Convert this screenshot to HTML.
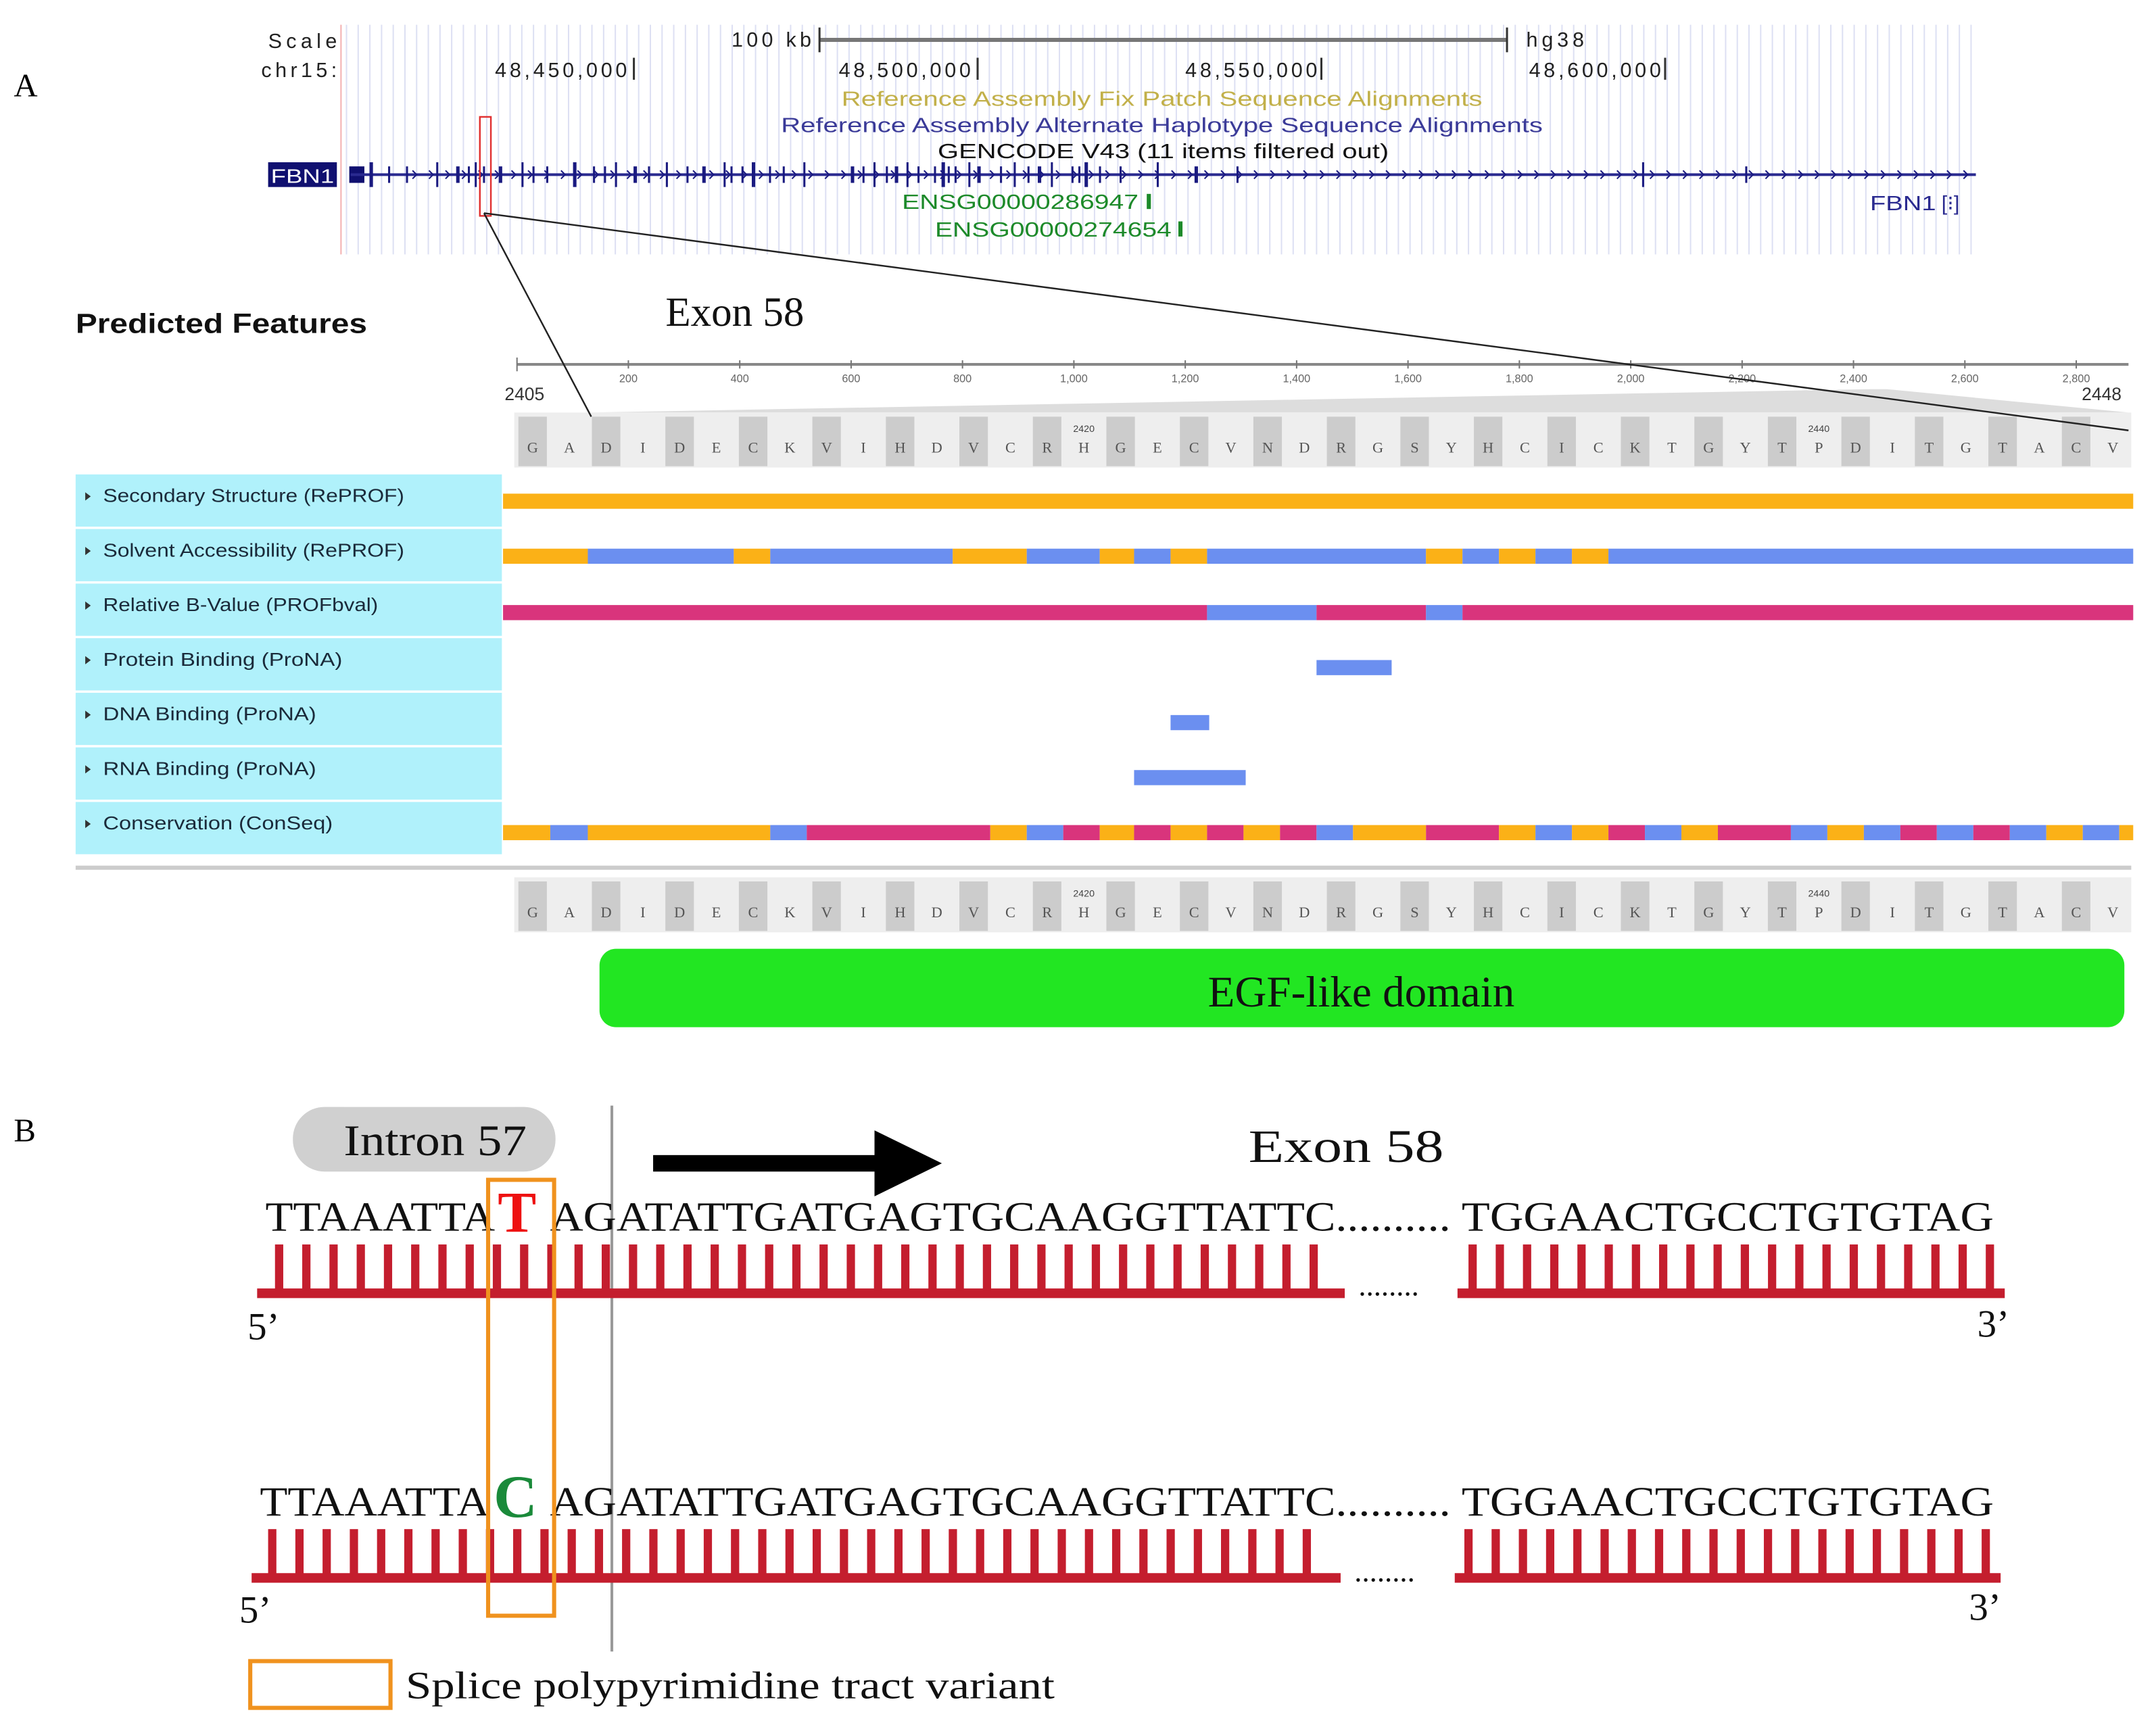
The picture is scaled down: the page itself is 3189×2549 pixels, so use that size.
<!DOCTYPE html>
<html><head><meta charset="utf-8"><style>
html,body{margin:0;padding:0;background:#fff}
svg{display:block}
</style></head><body>
<svg id="s" width="3189" height="2549" viewBox="0 0 1568 1253" preserveAspectRatio="none" xmlns="http://www.w3.org/2000/svg" font-family="Liberation Sans, sans-serif">
<rect width="1568" height="1253" fill="#fff"/>
<g id="vlines"></g>
<line x1="248" y1="18" x2="248" y2="185" stroke="#f3b0b0" stroke-width="1"/>
<text x="10" y="70" font-family="Liberation Serif, serif" font-size="24">A</text>
<text x="10" y="830" font-family="Liberation Serif, serif" font-size="24">B</text>
<g font-size="15" fill="#222" lengthAdjust="spacingAndGlyphs">
<text x="195" y="35" textLength="50">Scale</text>
<text x="190" y="56" textLength="55">chr15:</text>
<text x="532" y="34" textLength="58">100 kb</text>
<text x="1110" y="34" textLength="42">hg38</text>
<text x="360" y="56" textLength="96">48,450,000</text>
<text x="610" y="56" textLength="96">48,500,000</text>
<text x="862" y="56" textLength="96">48,550,000</text>
<text x="1112" y="56" textLength="96">48,600,000</text>
</g>
<g stroke="#333" stroke-width="1.5">
<line x1="596" y1="29" x2="1096" y2="29" stroke="#777" stroke-width="3"/>
<line x1="596" y1="20" x2="596" y2="38"/><line x1="1096" y1="20" x2="1096" y2="38"/>
<line x1="461" y1="42" x2="461" y2="58"/><line x1="711" y1="42" x2="711" y2="58"/>
<line x1="961" y1="42" x2="961" y2="58"/><line x1="1211" y1="42" x2="1211" y2="58"/>
</g>
<text x="612" y="77" font-size="15" fill="#c2b04a" textLength="466" lengthAdjust="spacingAndGlyphs">Reference Assembly Fix Patch Sequence Alignments</text>
<text x="568" y="96" font-size="15" fill="#3a3a98" textLength="554" lengthAdjust="spacingAndGlyphs">Reference Assembly Alternate Haplotype Sequence Alignments</text>
<text x="682" y="115" font-size="15" fill="#111" textLength="328" lengthAdjust="spacingAndGlyphs">GENCODE V43 (11 items filtered out)</text>
<rect x="195" y="118" width="50" height="18" fill="#101070"/>
<text x="197" y="133" font-size="14" fill="#fff" textLength="46" lengthAdjust="spacingAndGlyphs">FBN1</text>
<rect x="254" y="121" width="11" height="12" fill="#101070"/>
<line x1="255" y1="127" x2="1437" y2="127" stroke="#2a2a90" stroke-width="2"/>
<g id="exons" stroke="#1a1a80"></g>
<text x="656" y="152" font-size="15" fill="#1d8a2a" textLength="172" lengthAdjust="spacingAndGlyphs">ENSG00000286947</text>
<rect x="834" y="141" width="3" height="11" fill="#1d8a2a"/>
<text x="680" y="172" font-size="15" fill="#1d8a2a" textLength="172" lengthAdjust="spacingAndGlyphs">ENSG00000274654</text>
<rect x="857" y="161" width="3" height="11" fill="#1d8a2a"/>
<text x="1360" y="153" font-size="15" fill="#2a2a90" textLength="48" lengthAdjust="spacingAndGlyphs">FBN1</text>
<text x="1412" y="153" font-size="15" fill="#2a2a90">[⁝]</text>
<rect x="349" y="85" width="8" height="72" fill="none" stroke="#e03030" stroke-width="1.2"/>

<text x="55" y="242" font-size="20" font-weight="bold" fill="#111" textLength="212" lengthAdjust="spacingAndGlyphs">Predicted Features</text>
<text x="484" y="237" font-family="Liberation Serif, serif" font-size="30" fill="#111">Exon 58</text>
<line x1="376" y1="265" x2="1548" y2="265" stroke="#888" stroke-width="2"/>
<g id="ruler" font-size="8" fill="#666"></g>
<text x="367" y="291" font-size="13" fill="#333">2405</text>
<text x="1514" y="291" font-size="13" fill="#333">2448</text>
<polygon points="1360,283 1372,283 1548,300 430,300" fill="#ddd"/>
<g id="seq1"></g>
<g id="labels"></g>
<g id="tracks" transform="translate(344,0) scale(0.7805,1)"></g>
<line x1="55" y1="631" x2="1550" y2="631" stroke="#ccc" stroke-width="3"/>
<g id="seq2"></g>
<rect x="436" y="690" width="1109" height="57" rx="12" fill="#22e622"/>
<text x="990" y="732" text-anchor="middle" font-family="Liberation Serif, serif" font-size="32" fill="#111">EGF-like domain</text>

<line x1="352" y1="155" x2="430" y2="303" stroke="#222" stroke-width="1.2"/>
<line x1="352" y1="155" x2="1548" y2="313" stroke="#222" stroke-width="1.2"/>

<rect x="213" y="805" width="191" height="47" rx="23" fill="#d0d0d0"/>
<text x="250" y="840" font-family="Liberation Serif, serif" font-size="32" fill="#111" textLength="133" lengthAdjust="spacingAndGlyphs">Intron 57</text>
<line x1="445" y1="804" x2="445" y2="1201" stroke="#999" stroke-width="2"/>
<rect x="475" y="840" width="175" height="12" fill="#000"/>
<polygon points="636,822 685,846 636,870" fill="#000"/>
<text x="908" y="845" font-family="Liberation Serif, serif" font-size="34" fill="#111" textLength="142" lengthAdjust="spacingAndGlyphs">Exon 58</text>
<g id="combs" fill="#c41e2e"></g>
<g font-family="Liberation Serif, serif" fill="#111">
<text x="193" y="895" font-size="30" textLength="167" lengthAdjust="spacingAndGlyphs">TTAAATTA</text>
<text x="362" y="896" font-size="42" font-weight="bold" fill="#ee1111">T</text>
<text x="400" y="895" font-size="30" textLength="655" lengthAdjust="spacingAndGlyphs">AGATATTGATGAGTGCAAGGTTATTC..........</text>
<text x="1063" y="895" font-size="30" textLength="387" lengthAdjust="spacingAndGlyphs">TGGAACTGCCTGTGTAG</text>
<text x="180" y="974" font-size="28">5’</text>
<text x="1438" y="972" font-size="28">3’</text>
<text x="988" y="942" font-size="22">........</text>
<text x="189" y="1102" font-size="30" textLength="167" lengthAdjust="spacingAndGlyphs">TTAAATTA</text>
<text x="359" y="1103" font-size="44" font-weight="bold" fill="#1a8a3a">C</text>
<text x="400" y="1102" font-size="30" textLength="655" lengthAdjust="spacingAndGlyphs">AGATATTGATGAGTGCAAGGTTATTC..........</text>
<text x="1063" y="1102" font-size="30" textLength="387" lengthAdjust="spacingAndGlyphs">TGGAACTGCCTGTGTAG</text>
<text x="174" y="1180" font-size="28">5’</text>
<text x="1432" y="1178" font-size="28">3’</text>
<text x="985" y="1150" font-size="22">........</text>
<text x="295" y="1235" font-size="28" textLength="472" lengthAdjust="spacingAndGlyphs">Splice polypyrimidine tract variant</text>
</g>
<rect x="355" y="858" width="48" height="317" fill="none" stroke="#f0921e" stroke-width="3"/>
<rect x="182" y="1208" width="102" height="34" fill="none" stroke="#f0921e" stroke-width="3"/>
</svg>
<script>
var NS="http://www.w3.org/2000/svg";
function el(p,t,a,txt){var e=document.createElementNS(NS,t);for(var k in a)e.setAttribute(k,a[k]);if(txt!==undefined)e.textContent=txt;document.getElementById(p).appendChild(e);return e;}
for(var x=252;x<1440;x+=8.5)el("vlines","line",{x1:x,y1:18,x2:x,y2:185,stroke:"#dde0f3","stroke-width":1});
var ex=[270,283,296,318,333,341,346,352,364,380,388,398,418,432,440,448,462,472,485,500,512,527,532,540,548,560,570,585,620,628,636,645,652,660,668,680,686,690,695,705,712,728,738,748,756,765,780,785,790,800,815,842,870,900,1195,1270];
ex.forEach(function(x,i){var h=(i%3==0)?9:6;el("exons","line",{x1:x,y1:127-h,x2:x,y2:127+h,"stroke-width":(i%4==0)?2.5:1.5});});
for(var x=300;x<1437;x+=12)el("exons","path",{d:"M"+x+" 124 l3 3 l-3 3",fill:"none","stroke-width":1});
var rl=["200","400","600","800","1,000","1,200","1,400","1,600","1,800","2,000","2,200","2,400","2,600","2,800"];
rl.forEach(function(t,i){var x=457+81*i;el("ruler","line",{x1:x,y1:262,x2:x,y2:268,stroke:"#777"});el("ruler","text",{x:x,y:278,"text-anchor":"middle"},t);});
el("ruler","line",{x1:376,y1:260,x2:376,y2:270,stroke:"#777"});
var seq="GADIDECKVIHDVCRHGECVNDRGSYHCICKTGYTPDITGTACV";
function seqRow(id,y0){el(id,"rect",{x:374,y:y0,width:1176,height:40,fill:"#eeeeee"});var w=1176/44;
for(var i=0;i<44;i++){var x=374+i*w;if(i%2==0)el(id,"rect",{x:x+3,y:y0+3,width:w-6,height:36,fill:"#cccccc"});
el(id,"text",{x:x+w/2,y:y0+29,"text-anchor":"middle","font-size":11,"font-family":"Liberation Serif, serif",fill:"#555"},seq[i]);}
el(id,"text",{x:374+15.5*w,y:y0+14,"text-anchor":"middle","font-size":7,fill:"#444"},"2420");
el(id,"text",{x:374+35.5*w,y:y0+14,"text-anchor":"middle","font-size":7,fill:"#444"},"2440");}
seqRow("seq1",300);seqRow("seq2",638);
var labs=[["Secondary Structure (RePROF)",219],["Solvent Accessibility (RePROF)",219],["Relative B-Value (PROFbval)",200],["Protein Binding (ProNA)",174],["DNA Binding (ProNA)",155],["RNA Binding (ProNA)",155],["Conservation (ConSeq)",167]];
labs.forEach(function(t,i){var y=345+39.7*i;el("labels","rect",{x:55,y:y,width:310,height:38,fill:"#b0f1fb"});
el("labels","path",{d:"M62 "+(y+13)+" l4 3 l-4 3z",fill:"#333"});
el("labels","text",{x:75,y:y+20,"font-size":13.5,fill:"#1a2a3a",textLength:t[1],lengthAdjust:"spacingAndGlyphs"},t[0]);});
var O="#fbb117",B="#6b8ff0",P="#d9347c";
function tr(y,segs){segs.forEach(function(s){el("tracks","rect",{x:s[0],y:y,width:s[1]-s[0],height:11,fill:s[2]});});}
tr(359,[[28,1547,O]]);
tr(399,[[28,107,O],[107,243,B],[243,277,O],[277,447,B],[447,516,O],[516,584,B],[584,616,O],[616,650,B],[650,684,O],[684,888,B],[888,922,O],[922,956,B],[956,990,O],[990,1024,B],[1024,1058,O],[1058,1547,B]]);
tr(440,[[28,684,P],[684,786,B],[786,888,P],[888,922,B],[922,1547,P]]);
tr(480,[[786,856,B]]);
tr(520,[[650,686,B]]);
tr(560,[[616,720,B]]);
tr(600,[[28,72,O],[72,107,B],[107,277,O],[277,311,B],[311,482,P],[482,516,O],[516,550,B],[550,584,P],[584,616,O],[616,650,P],[650,684,O],[684,718,P],[718,752,O],[752,786,P],[786,820,B],[820,888,O],[888,956,P],[956,990,O],[990,1024,B],[1024,1058,O],[1058,1092,P],[1092,1126,B],[1126,1160,O],[1160,1228,P],[1228,1262,B],[1262,1296,O],[1296,1330,B],[1330,1364,P],[1364,1398,B],[1398,1432,P],[1432,1466,B],[1466,1500,O],[1500,1534,B],[1534,1547,O]]);
function comb(x0,x1,y,t0){el("combs","rect",{x:x0,y:y,width:x1-x0,height:7});
for(var x=t0;x<x1-8;x+=19.8)el("combs","rect",{x:x,y:y-32,width:6,height:33});}
comb(187,978,937,200);comb(1060,1458,937,1068);
comb(183,975,1144,195);comb(1058,1455,1144,1065);
</script>
</body></html>
